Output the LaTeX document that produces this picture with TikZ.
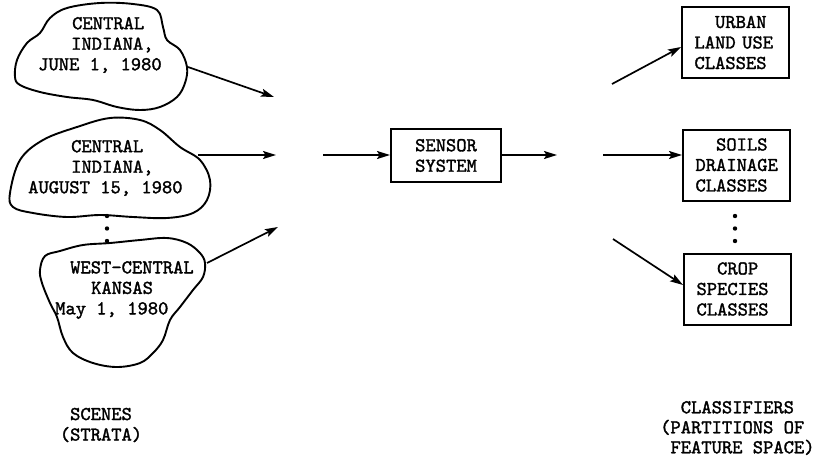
\documentclass[tikz,border=0pt]{standalone}
\usepackage{fontspec}
\setmonofont[FakeBold=1.6]{lmmono10-regular.otf}
\usetikzlibrary{arrows.meta}
\tikzset{
  tw/.style={font=\ttfamily\bfseries\fontsize{19.6}{20.5}\selectfont, inner sep=0pt},
  outline/.style={line width=1.9pt, line join=round},
  flow/.style={line width=1.7pt, -{Stealth[length=13pt,width=8pt,inset=2.5pt]}},
  classbox/.style={tw, draw, line width=2pt, minimum width=107pt, minimum height=71pt,
                   text width=82pt, align=left},
  dot/.style={circle, fill=black, inner sep=0pt, minimum size=4.4pt}
}
\begin{document}
\begin{tikzpicture}[x=1pt, y=-1pt]
\useasboundingbox (0,0) rectangle (818,461);

% --- scenes (strata) ---
\draw[outline] plot[smooth cycle, tension=0.6] coordinates {
  (50,18) (67,8) (100,3) (133,4) (157,10) (163,27) (167,40) (180,50) (187,67)
  (185,83) (177,97) (160,107) (140,110) (117,107) (93,100) (67,97) (40,92)
  (20,85) (15,77) (17,60) (27,43) (40,33)};
\node[tw, align=left, anchor=west] (scene1) at (38,45)
  {\hspace{34pt}CENTRAL\\\hspace{33pt}INDIANA,\\JUNE 1, 1980};

\draw[outline] plot[smooth cycle, tension=0.6] coordinates {
  (10,193) (20,160) (43,140) (77,127) (110,118) (140,120) (160,130) (180,147)
  (200,160) (210,180) (207,200) (193,213) (167,218) (133,217) (100,215)
  (67,217) (33,213) (13,207)};
\node[tw, align=left, anchor=west] (scene2) at (28,168)
  {\hspace{43pt}CENTRAL\\\hspace{43pt}INDIANA,\\AUGUST 15, 1980};

\draw[outline] plot[smooth cycle, tension=0.6] coordinates {
  (40,270) (45,256) (60,251) (83,245) (110,243) (140,240) (167,238) (187,243)
  (200,253) (205,263) (203,277) (193,290) (180,307) (170,320) (163,340)
  (153,353) (140,363) (117,367) (93,363) (73,353) (63,337) (57,317) (50,303)
  (42,283)};
\node[tw, align=left, anchor=west] (scene3) at (55,290)
  {\hspace{15pt}WEST-CENTRAL\\\hspace{36pt}KANSAS\\May 1, 1980};

\node[dot] (ld1) at (107,216) {};
\node[dot] (ld2) at (107,228.5) {};
\node[dot] (ld3) at (107,241) {};

% arrow tails on the scene outlines and heads in the open
\coordinate (s1out) at (188,67);
\coordinate (s2out) at (198,155);
\coordinate (s3out) at (207,263);
\coordinate (s1in) at (274,97);
\coordinate (s2in) at (276,155);
\coordinate (s3in) at (278,227);

\draw[flow] (s1out) -- (s1in);
\draw[flow] (s2out) -- (s2in);
\draw[flow] (s3out) -- (s3in);

% --- sensor system ---
\node[tw, draw, line width=2pt, minimum width=110pt, minimum height=53pt, align=center]
  (sensor) at (446,155.5) {SENSOR\\SYSTEM};
\coordinate (sensorin) at (323,155);
\coordinate (sensorout) at (557,155);
\draw[flow] (sensorin) -- (sensor.west |- sensorin);
\draw[flow] (sensor.east |- sensorout) -- (sensorout);

% --- classifiers ---
\node[classbox] (urban) at (735.5,42.5)
  {\hphantom{XX}URBAN\\LAND USE\\CLASSES};
\node[classbox] (soils) at (736.5,165)
  {\hphantom{XX}SOILS\\DRAINAGE\\CLASSES};
\node[classbox] (crop) at (737.5,289)
  {\hphantom{XX}CROP\\SPECIES\\CLASSES};

\node[dot] (rd1) at (735,216) {};
\node[dot] (rd2) at (735,228.5) {};
\node[dot] (rd3) at (735,241) {};

\coordinate (c1out) at (612,84);
\coordinate (c2out) at (603,155);
\coordinate (c3out) at (613,239);
\draw[flow] (c1out) -- (urban.west |- 0,47);
\draw[flow] (c2out) -- (soils.west |- c2out);
\draw[flow] (c3out) -- (crop.west |- 0,285);

% --- captions ---
\node[tw, align=center] (scenescap) at (101,425) {SCENES\\(STRATA)};
\node[tw, align=left, anchor=west, font=\ttfamily\bfseries\fontsize{19.6}{20}\selectfont]
  (classcap) at (660,428)
  {\hphantom{XX}CLASSIFIERS\\(PARTITIONS OF\\\hphantom{X}FEATURE SPACE)};
\end{tikzpicture}
\end{document}
